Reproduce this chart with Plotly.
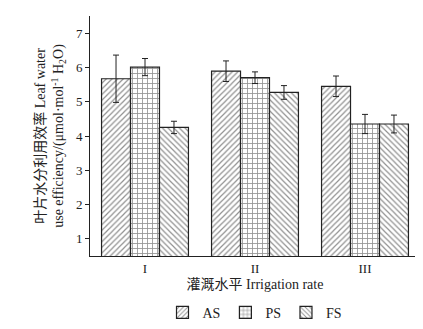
import plotly.graph_objects as go

categories = ["I", "II", "III"]
series_names = ["AS", "PS", "FS"]
as_values = [5.67, 5.89, 5.45]
as_errors = [0.69, 0.30, 0.30]
ps_values = [6.01, 5.70, 4.35]
ps_errors = [0.25, 0.17, 0.28]
fs_values = [4.25, 5.27, 4.35]
fs_errors = [0.18, 0.20, 0.26]
y_ticks = [1, 2, 3, 4, 5, 6, 7]

values = [as_values, ps_values, fs_values]
errors = [as_errors, ps_errors, fs_errors]
shapes = ["/", "+", "\\"]
sizes = [4, 5, 4]

fig = go.Figure()
for name, vals, errs, shp, sz in zip(series_names, values, errors, shapes, sizes):
    fig.add_trace(go.Bar(
        x=categories, y=vals, name=name,
        base=0,
        marker=dict(color="white", line=dict(color="#222", width=1.2),
                    pattern=dict(shape=shp, fgcolor="#222", bgcolor="white",
                                 size=sz, solidity=0.3)),
        error_y=dict(type="data", array=errs, visible=True, color="#222",
                     thickness=1, width=3),
    ))

serif = "Liberation Serif, Noto Sans CJK SC, serif"
fig.update_layout(
    width=423, height=329,
    margin=dict(l=82, r=11, t=8, b=77),
    paper_bgcolor="white", plot_bgcolor="white",
    barmode="group", bargap=0.21, bargroupgap=0,
    font=dict(family=serif, size=13, color="#222"),
    showlegend=True,
    legend=dict(orientation="h", x=0.5, xanchor="center", y=-0.17, yanchor="top",
                font=dict(size=14), itemwidth=30, traceorder="normal"),
    xaxis=dict(range=[-0.5, 2.5], showline=True, linecolor="#222", linewidth=1,
               ticks="", tickfont=dict(size=13),
               title=dict(text="灌溉水平 Irrigation rate", font=dict(size=14), standoff=4)),
    yaxis=dict(range=[0.5, 7.5], tickvals=y_ticks, showline=True, linecolor="#222",
               linewidth=1, ticks="outside", ticklen=4, tickcolor="#222",
               showgrid=False, zeroline=False, tickfont=dict(size=13),
               title=dict(text="叶片水分利用效率 Leaf water<br>use efficiency/(μmol·mol<sup>-1</sup> H<sub>2</sub>O)",
                          font=dict(size=14), standoff=8)),
)
fig.write_html("out.html")
